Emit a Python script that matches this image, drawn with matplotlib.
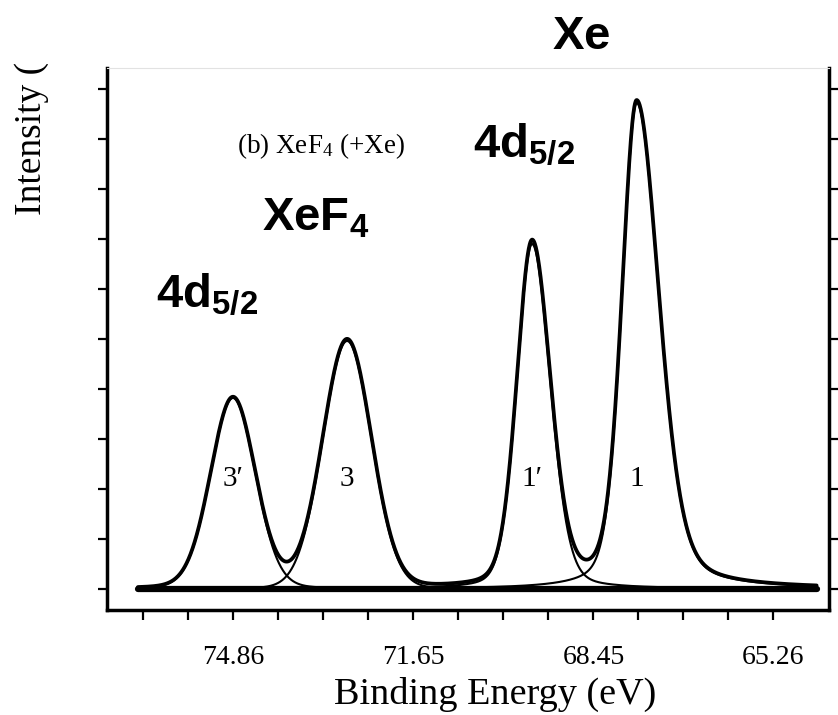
import numpy as np
import matplotlib
matplotlib.use('Agg')
import matplotlib.pyplot as plt

plt.rcParams['mathtext.fontset'] = 'custom'
plt.rcParams['mathtext.rm'] = 'Liberation Serif'
plt.rcParams['mathtext.it'] = 'Liberation Serif:italic'
plt.rcParams['mathtext.bf'] = 'Liberation Sans:bold'

# ---- data ----
peak_labels = ["3\u2032", "3", "1\u2032", "1"]
peak_centers = [74.86, 72.83, 69.54, 67.68]      # binding energy (eV)
peak_heights = [3.82, 4.96, 6.90, 9.72]          # intensity (tick units)
hwhm_high_be = [0.47, 0.51, 0.32, 0.31]          # half width on high-BE side
hwhm_low_be = [0.47, 0.51, 0.38, 0.47]           # half width on low-BE side
lorentz_frac = [0.10, 0.05, 0.20, 0.30]
energy_range = [76.55, 64.48]
x_ticks = [76.46, 75.66, 74.86, 74.06, 73.26, 72.45, 71.65, 70.85,
           70.05, 69.25, 68.45, 67.65, 66.85, 66.06, 65.26]
x_tick_labels = ['', '', '74.86', '', '', '', '71.65', '', '', '',
                 '68.45', '', '', '', '65.26']
y_ticks = [0, 1, 2, 3, 4, 5, 6, 7, 8, 9, 10]

W, H = 838, 715
fig = plt.figure(figsize=(W / 100, H / 100), dpi=100)
ax = fig.add_axes([107 / W, 1 - 610 / H, (829 - 107) / W, (610 - 68) / H])

E = np.linspace(energy_range[0], energy_range[1], 2000)


def component(c, h, wl, wr, eta):
    w = np.where(E > c, wl, wr)
    r2 = ((E - c) / w) ** 2
    return h * (eta / (1 + r2) + (1 - eta) * np.exp(-np.log(2) * r2))


comps = [component(c, h, wl, wr, eta) for c, h, wl, wr, eta in
         zip(peak_centers, peak_heights, hwhm_high_be, hwhm_low_be, lorentz_frac)]
envelope = np.sum(comps, axis=0)

for comp in comps:
    ax.plot(E, comp, color='black', lw=1.5, solid_capstyle='round')
ax.plot(E, envelope, color='black', lw=2.7, solid_capstyle='round')
ax.plot(energy_range, [0, 0], color='black', lw=4.5, solid_capstyle='round')

serif = ['Liberation Serif', 'DejaVu Serif']
for lab, c in zip(peak_labels, peak_centers):
    ax.text(c, 2.2, lab, fontsize=21, family=serif, ha='center', va='center')

ax.set_xlim(77.10, 64.26)
ax.set_ylim(-0.42, 10.42)
ax.set_xticks(x_ticks)
ax.set_xticklabels(x_tick_labels, family=serif, fontsize=20)
ax.set_yticks(y_ticks)
ax.tick_params(axis='x', direction='out', length=7.5, width=1.6, pad=17.5)
ax.tick_params(axis='y', left=True, right=True, labelleft=False,
               direction='out', length=6.5, width=1.6)
for s in ['left', 'bottom', 'right']:
    ax.spines[s].set_linewidth(2.5)
ax.spines['top'].set_color('#e2e2e2')
ax.spines['top'].set_linewidth(0.8)

fig.text(495 / W, 1 - 694 / H, 'Binding Energy (eV)', family=serif,
         fontsize=27.5, ha='center', va='center')
fig.text(32 / W, 1 - 215 / H, 'Intensity (', family=serif,
         fontsize=27, rotation=90, ha='center', va='bottom')

fig.text(237 / W, 1 - 153 / H, '(b) XeF$_4$ (+Xe)', family=serif,
         fontsize=19.5, ha='left', va='baseline')

bold = dict(fontsize=34, ha='left', va='baseline')
fig.text(552 / W, 1 - 49 / H, r'$\mathbf{Xe}$', **bold)
fig.text(473 / W, 1 - 157 / H, r'$\mathbf{4d_{5/2}}$', **bold)
fig.text(262 / W, 1 - 230 / H, r'$\mathbf{XeF_4}$', **bold)
fig.text(156 / W, 1 - 307 / H, r'$\mathbf{4d_{5/2}}$', **bold)

fig.savefig('out.png', dpi=100)
